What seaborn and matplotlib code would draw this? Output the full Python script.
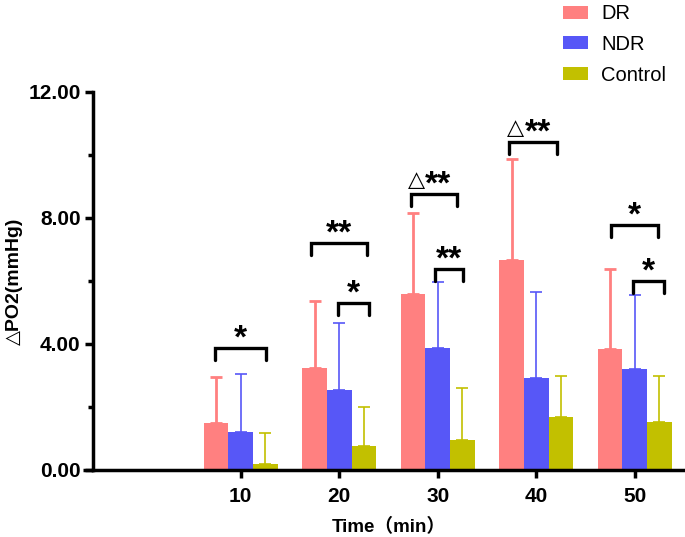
import matplotlib
matplotlib.use('Agg')
import matplotlib.pyplot as plt
import seaborn as sns
import pandas as pd
from matplotlib.ticker import FormatStrFormatter, MultipleLocator

# Datos (media y DE, solo barra superior)
times = ['10', '20', '30', '40', '50']
groups = ['DR', 'NDR', 'Control']
dr_mean = [1.50, 3.25, 5.59, 6.67, 3.84]
dr_sd = [1.45, 2.10, 2.57, 3.20, 2.54]
ndr_mean = [1.21, 2.54, 3.87, 2.92, 3.21]
ndr_sd = [1.84, 2.14, 2.10, 2.73, 2.35]
ctrl_mean = [0.19, 0.77, 0.95, 1.68, 1.52]
ctrl_sd = [0.98, 1.23, 1.65, 1.30, 1.46]

palette = {'DR': '#FF8080', 'NDR': '#5757F7', 'Control': '#C2C000'}

# Corchetes de significancia: (índice de tiempo, x1, x2, altura, etiqueta)
brackets = [
    (0, -0.265, 0.254, 3.87, '*'),
    (1, -0.285, 0.285, 7.20, '**'),
    (1, -0.010, 0.305, 5.30, '*'),
    (2, -0.275, 0.193, 8.76, '△**'),
    (2, -0.030, 0.260, 6.38, '**'),
    (3, -0.275, 0.214, 10.41, '△**'),
    (4, -0.245, 0.234, 7.78, '*'),
    (4, -0.020, 0.295, 6.00, '*'),
]

rows = []
for g, means, sds in [('DR', dr_mean, dr_sd), ('NDR', ndr_mean, ndr_sd), ('Control', ctrl_mean, ctrl_sd)]:
    for t, m, s in zip(times, means, sds):
        rows.append({'time': t, 'group': g, 'mean': m, 'sd': s})
df = pd.DataFrame(rows)

sns.set_style('ticks')
plt.rcParams['font.family'] = ['Liberation Sans', 'DejaVu Sans', 'Noto Sans CJK SC']
plt.rcParams['text.color'] = 'black'
plt.rcParams['axes.labelcolor'] = 'black'
plt.rcParams['xtick.color'] = 'black'
plt.rcParams['ytick.color'] = 'black'
plt.rcParams['axes.edgecolor'] = 'black'

fig = plt.figure(figsize=(6.85, 5.37), dpi=100)
ax = fig.add_axes([0.1358, 0.1248, 0.8628, 0.7039])

sns.barplot(data=df, x='time', y='mean', hue='group', order=times, hue_order=groups,
            palette=palette, saturation=1, width=0.75, errorbar=None, ax=ax,
            edgecolor='none', linewidth=0)

# barras de error (solo hacia arriba)
for cont, g in zip(ax.containers, groups):
    sub = df[df['group'] == g].set_index('time').loc[times]
    xs = [b.get_x() + b.get_width() / 2 for b in cont]
    lw = 2.0 if g == 'DR' else 1.2
    ax.errorbar(xs, sub['mean'], yerr=[[0] * len(xs), sub['sd']], fmt='none',
                ecolor=palette[g], elinewidth=lw, capsize=4.3, capthick=lw, zorder=3)

# corchetes y asteriscos
drop = 0.37
star_fs = 24
for i, x1, x2, y, lab in brackets:
    ax.plot([i + x1, i + x1, i + x2, i + x2], [y - drop, y, y, y - drop],
            color='black', lw=2.4, solid_joinstyle='miter', zorder=4)
    xc = i + (x1 + x2) / 2
    yc = y + 0.48
    stars = lab.replace('△', '')
    if lab.startswith('△'):
        xa = xc - 0.09
        ax.annotate('△', (xa, yc), xytext=(0, -0.33 * 16), textcoords='offset points',
                    ha='right', va='baseline', fontsize=16, family=['DejaVu Sans'])
        ax.annotate(stars, (xa, yc), xytext=(0, -0.43 * star_fs), textcoords='offset points',
                    ha='left', va='baseline', fontsize=star_fs, fontweight='bold')
    else:
        ax.annotate(stars, (xc, yc), xytext=(0, -0.43 * star_fs), textcoords='offset points',
                    ha='center', va='baseline', fontsize=star_fs, fontweight='bold')

ax.set_xlim(-1.5, 4.5)
ax.set_ylim(0, 12)
ax.yaxis.set_major_locator(MultipleLocator(4))
ax.yaxis.set_minor_locator(MultipleLocator(2))
ax.yaxis.set_major_formatter(FormatStrFormatter('%.2f'))

sns.despine(ax=ax)
for s in ['left', 'bottom']:
    ax.spines[s].set_linewidth(2.5)
# el eje x sobresale un poco a la izquierda del eje y
ax.plot([-0.017, 0], [0, 0], transform=ax.transAxes, color='black', lw=2.5,
        clip_on=False, solid_capstyle='butt')
ax.tick_params(axis='both', which='major', length=6, width=2.5, labelsize=15)
ax.tick_params(axis='y', which='major', pad=3)
ax.tick_params(axis='x', which='major', pad=6)
ax.tick_params(axis='y', which='minor', length=3.5, width=2.5)
ax.tick_params(axis='x', which='minor', length=0)
for lab in ax.get_xticklabels() + ax.get_yticklabels():
    lab.set_fontweight('bold')

ax.set_xlabel('Time（min）', fontsize=13.5, fontweight='bold', labelpad=9)
ax.set_ylabel('△PO2(mmHg)', fontsize=14, fontweight='bold')
ax.yaxis.set_label_coords(-0.118, 0.5)

handles, labels = ax.get_legend_handles_labels()
ax.legend(handles, labels, loc='upper left', bbox_to_anchor=(0.822, 0.992),
          bbox_transform=fig.transFigure, frameon=False, fontsize=14.5,
          handlelength=1.25, handleheight=0.6, handletextpad=0.65,
          labelspacing=0.58, borderpad=0, borderaxespad=0)

fig.savefig('out.png', dpi=100)
